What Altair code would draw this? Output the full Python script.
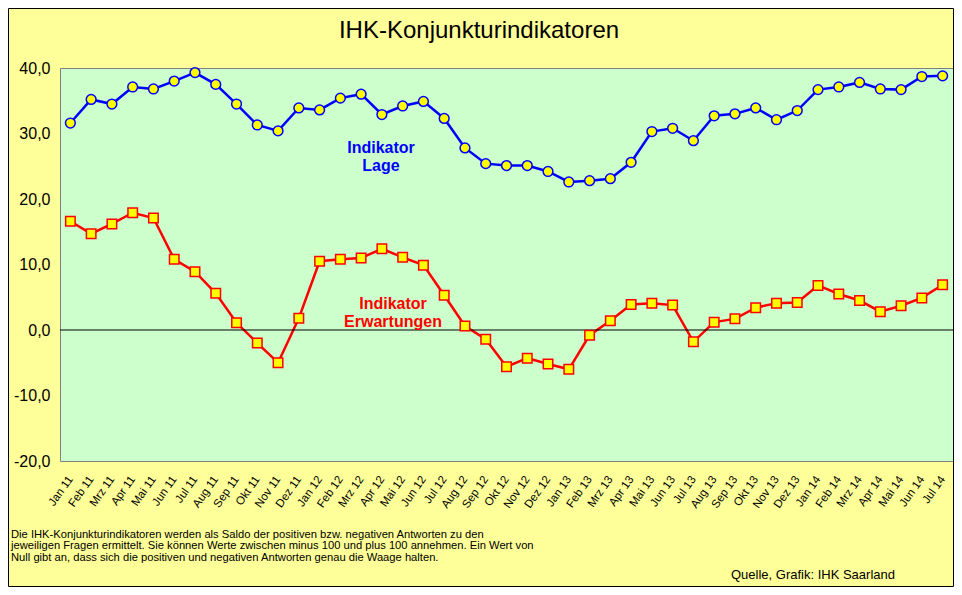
import altair as alt
import pandas as pd

months = ["Jan 11", "Feb 11", "Mrz 11", "Apr 11", "Mai 11", "Jun 11", "Jul 11", "Aug 11", "Sep 11", "Okt 11", "Nov 11", "Dez 11",
          "Jan 12", "Feb 12", "Mrz 12", "Apr 12", "Mai 12", "Jun 12", "Jul 12", "Aug 12", "Sep 12", "Okt 12", "Nov 12", "Dez 12",
          "Jan 13", "Feb 13", "Mrz 13", "Apr 13", "Mai 13", "Jun 13", "Jul 13", "Aug 13", "Sep 13", "Okt 13", "Nov 13", "Dez 13",
          "Jan 14", "Feb 14", "Mrz 14", "Apr 14", "Mai 14", "Jun 14", "Jul 14"]

lage = [31.6, 35.2, 34.5, 37.1, 36.8, 38.0, 39.3, 37.5, 34.5, 31.3, 30.4, 33.9,
        33.6, 35.4, 36.0, 32.9, 34.2, 34.9, 32.3, 27.8, 25.4, 25.1, 25.1, 24.2,
        22.6, 22.8, 23.1, 25.6, 30.3, 30.8, 28.9, 32.7, 33.0, 33.9, 32.1, 33.5,
        36.7, 37.1, 37.8, 36.8, 36.7, 38.7, 38.8]

erwartungen = [16.6, 14.7, 16.2, 17.9, 17.1, 10.8, 8.9, 5.6, 1.1, -2.0, -5.0, 1.8,
               10.5, 10.8, 11.0, 12.4, 11.1, 9.9, 5.3, 0.6, -1.4, -5.6, -4.3, -5.2,
               -6.0, -0.8, 1.4, 3.9, 4.1, 3.8, -1.8, 1.2, 1.7, 3.4, 4.1, 4.2,
               6.8, 5.5, 4.5, 2.8, 3.7, 4.9, 6.9]

title_text = "IHK-Konjunkturindikatoren"
label_lage = ["Indikator", "Lage"]
label_erw = ["Indikator", "Erwartungen"]
footnote = ["Die IHK-Konjunkturindikatoren werden als Saldo der positiven bzw. negativen Antworten zu den",
            "jeweiligen Fragen ermittelt. Sie können Werte zwischen minus 100 und plus 100 annehmen. Ein Wert von",
            "Null gibt an, dass sich die positiven und negativen Antworten genau die Waage halten."]
source = "Quelle, Grafik: IHK  Saarland"

df = pd.DataFrame({"month": months, "lage": lage, "erw": erwartungen})
one = pd.DataFrame({"k": [0]})

FONT = "Liberation Sans"
W, H = 893, 393

x_enc = alt.X("month:N", sort=months, title=None,
              scale=alt.Scale(type="point", padding=0.5),
              axis=alt.Axis(labelAngle=-55, labelAlign="right", labelBaseline="middle",
                            labelPadding=16, ticks=False, tickSize=0, domain=False,
                            labelFontSize=11.5, labelFont=FONT, labelColor="black"))
y_scale = alt.Scale(domain=[-20, 40], nice=False, zero=False)
y_axis = alt.Axis(values=[-20, -10, 0, 10, 20, 30, 40], grid=False, ticks=False, tickSize=0,
                  domain=False, labelPadding=10, labelFontSize=16, labelFont=FONT,
                  labelColor="black",
                  labelExpr="(datum.value < 0 ? '-' : '') + replace(format(abs(datum.value), '.1f'), '.', ',')")

base = alt.Chart(df)

zero_rule = alt.Chart(one).mark_rule(color="black", strokeWidth=1.2).encode(
    y=alt.datum(0, scale=y_scale, axis=y_axis, type="quantitative"))

line_lage = base.mark_line(color="#0000FF", strokeWidth=2.5).encode(
    x=x_enc, y=alt.Y("lage:Q", scale=y_scale, axis=y_axis, title=None))
pts_lage = base.mark_point(shape="circle", filled=False, fill="#FFFF00", fillOpacity=1,
                           stroke="#0000FF", strokeWidth=1.5, size=95, opacity=1).encode(
    x=alt.X("month:N", sort=months), y=alt.Y("lage:Q", scale=y_scale))

line_erw = base.mark_line(color="#FF0000", strokeWidth=2.5).encode(
    x=alt.X("month:N", sort=months), y=alt.Y("erw:Q", scale=y_scale))
pts_erw = base.mark_point(shape="square", filled=False, fill="#FFFF00", fillOpacity=1,
                          stroke="#FF0000", strokeWidth=1.5, size=90, opacity=1).encode(
    x=alt.X("month:N", sort=months), y=alt.Y("erw:Q", scale=y_scale))

txt_lage = alt.Chart(one).mark_text(color="#0000FF", fontWeight="bold", fontSize=16, font=FONT,
                                     align="center", baseline="middle", lineHeight=18).encode(
    x=alt.value(321), y=alt.value(80), text=alt.value(label_lage))
txt_erw = alt.Chart(one).mark_text(color="#FF0000", fontWeight="bold", fontSize=16, font=FONT,
                                    align="center", baseline="middle", lineHeight=18).encode(
    x=alt.value(333), y=alt.value(236), text=alt.value(label_erw))

title = alt.Chart(one).mark_text(color="black", fontSize=24, font=FONT, align="center",
                                  baseline="alphabetic").encode(
    x=alt.value(419), y=alt.value(-30), text=alt.value(title_text))
foot = alt.Chart(one).mark_text(color="black", fontSize=11.2, font=FONT, align="left",
                                 baseline="alphabetic", lineHeight=11.3).encode(
    x=alt.value(-49), y=alt.value(470), text=alt.value(footnote))
src = alt.Chart(one).mark_text(color="black", fontSize=13, font=FONT, align="right",
                                baseline="alphabetic").encode(
    x=alt.value(835), y=alt.value(511), text=alt.value(source))
frame = alt.Chart(one).mark_rect(fill=None, stroke="black", strokeWidth=1).encode(
    x=alt.value(-51.5), x2=alt.value(893.5), y=alt.value(-59.5), y2=alt.value(518.5))

chart = alt.layer(
    line_erw, zero_rule, line_lage, pts_erw, pts_lage, txt_lage, txt_erw, title, foot, src, frame
).properties(
    width=W, height=H,
    autosize=alt.AutoSizeParams(type="none"),
    padding={"left": 52, "top": 60, "right": 1, "bottom": 126},
    background="#FFFF99"
).configure_view(
    fill="#CCFFCC", stroke="#808080", strokeWidth=1
)

chart.save("out.html", embed_options={"renderer": "svg", "actions": False})
